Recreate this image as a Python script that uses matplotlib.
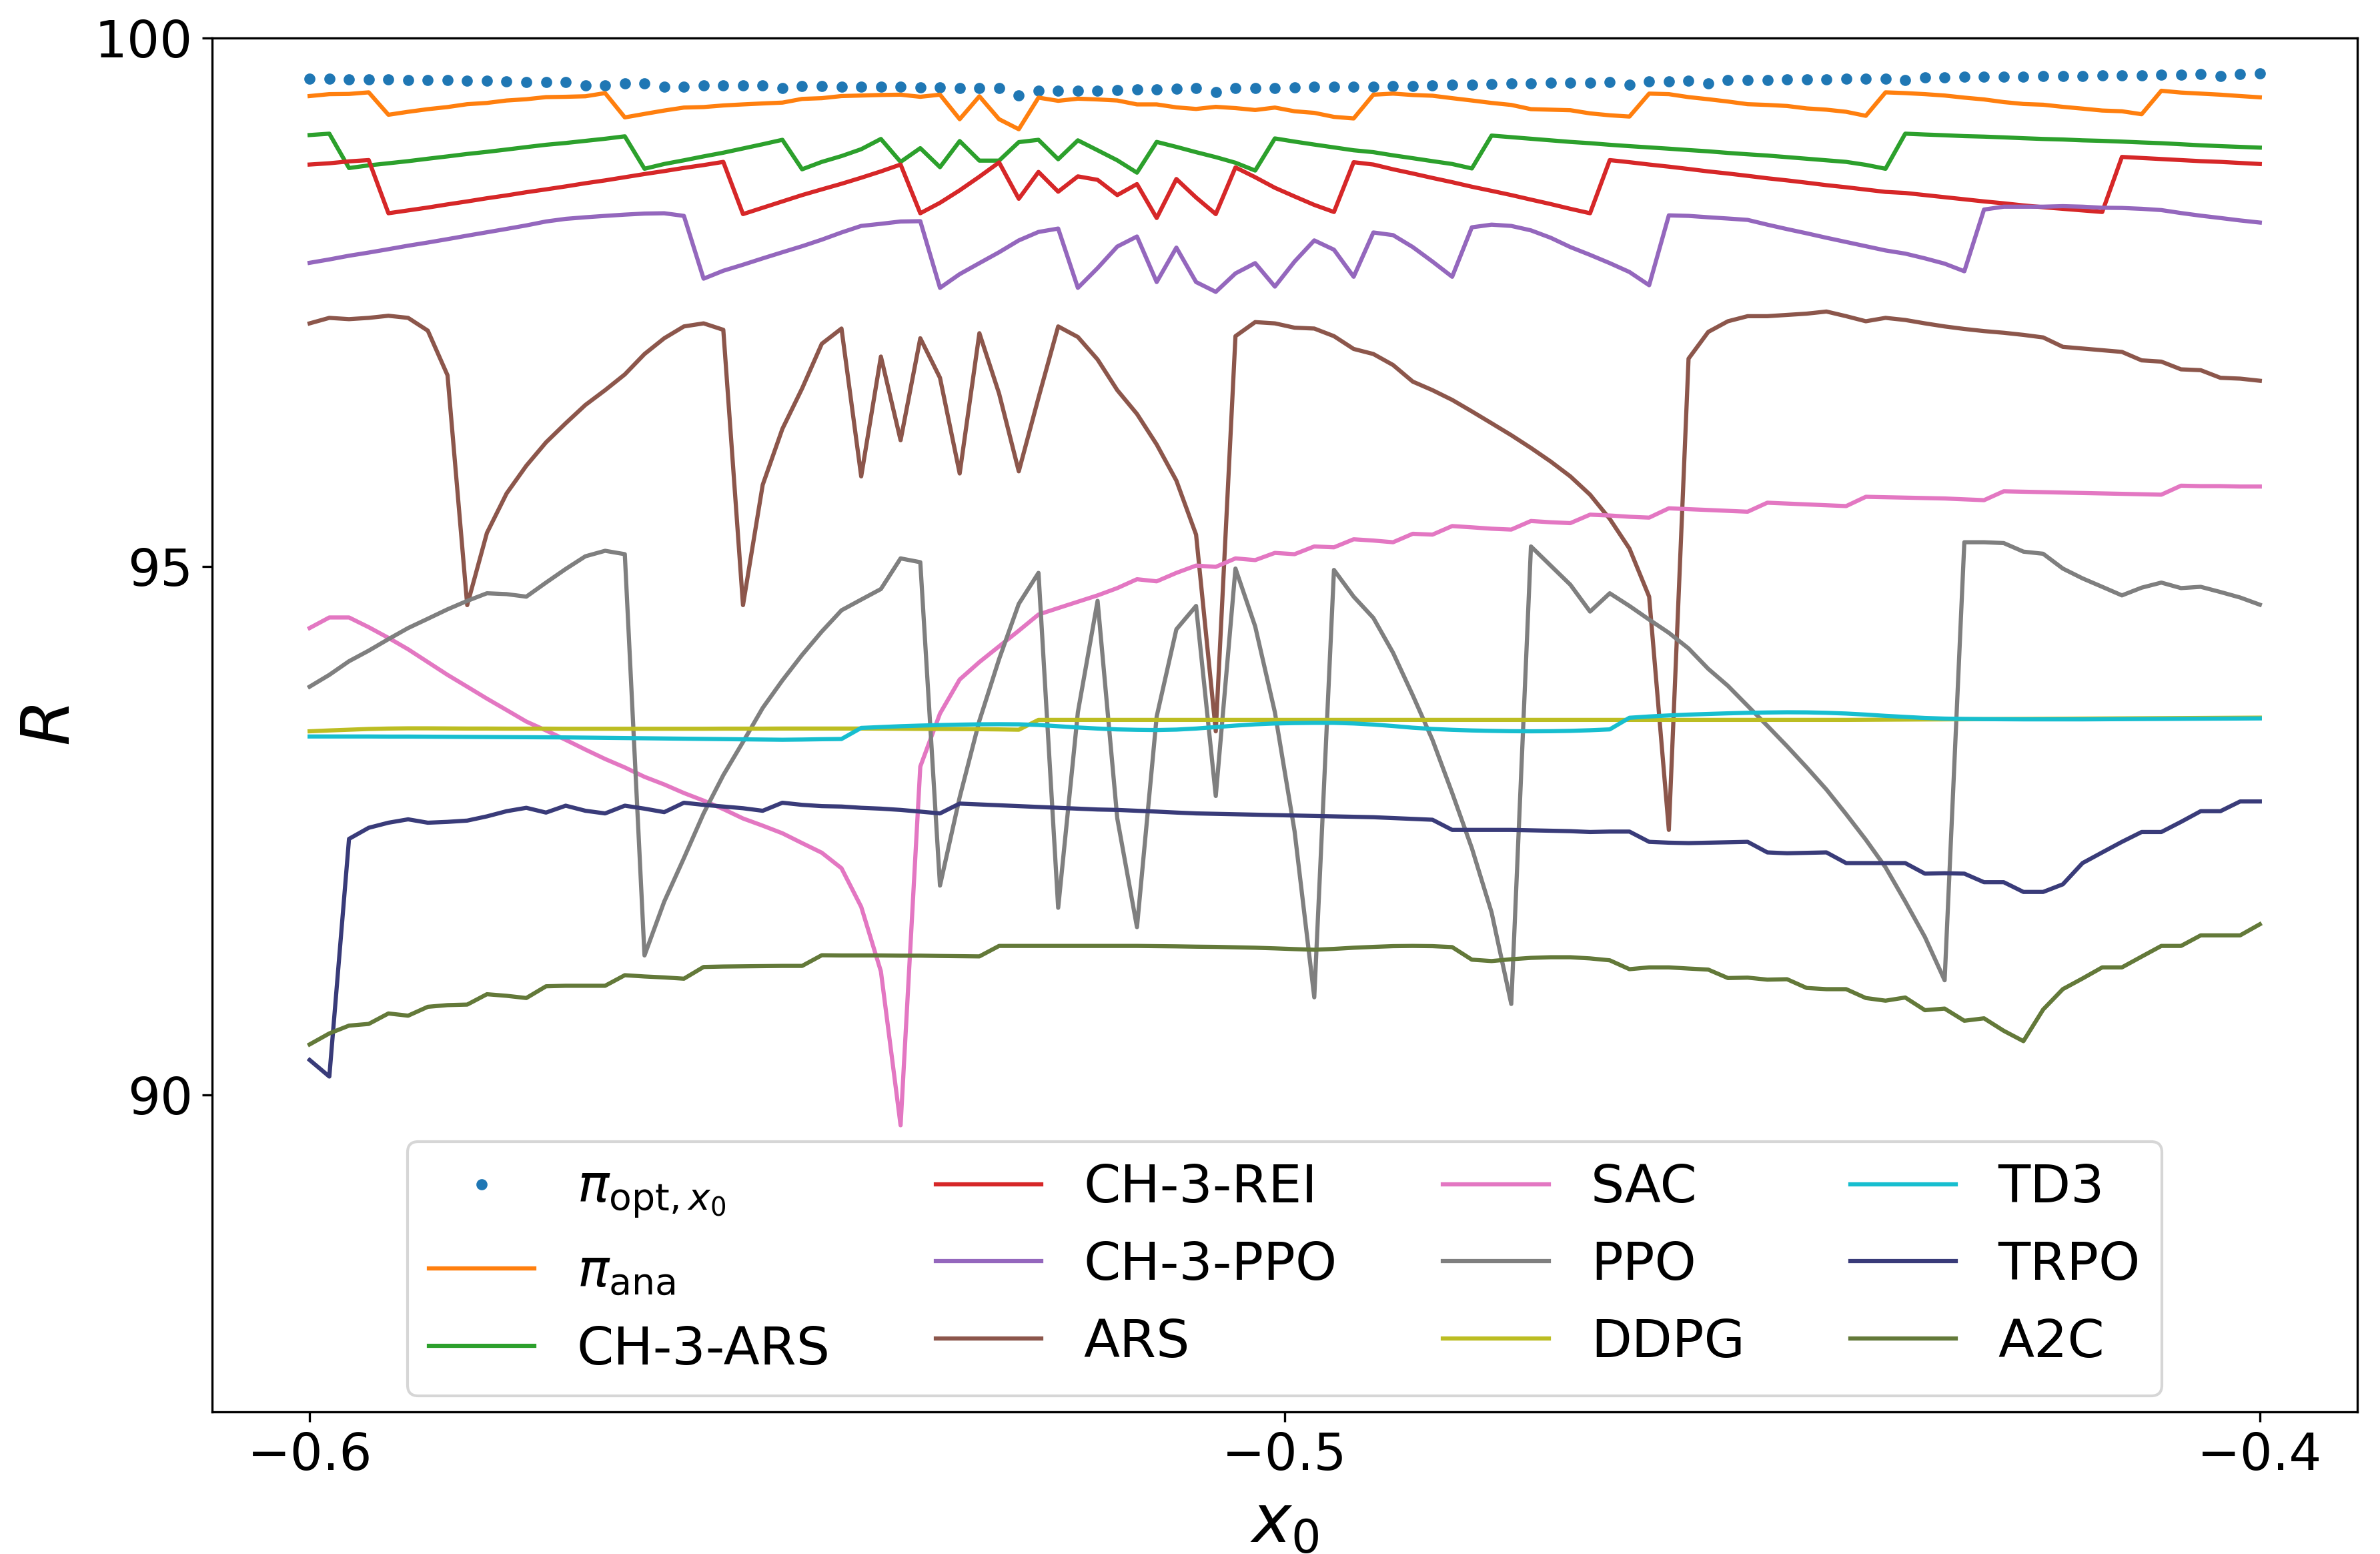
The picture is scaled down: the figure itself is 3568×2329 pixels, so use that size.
import numpy as np
import matplotlib
matplotlib.use('Agg')
import matplotlib.pyplot as plt

# x grid
x_start, x_stop, n_points = -0.6, -0.4, 100
x0 = np.linspace(x_start, x_stop, n_points)

pi_opt = [99.613, 99.613, 99.611, 99.606, 99.606, 99.603, 99.601, 99.601, 99.598, 99.593,
          99.589, 99.586, 99.584, 99.581, 99.554, 99.551, 99.573, 99.571, 99.539, 99.536,
          99.554, 99.554, 99.554, 99.551, 99.526, 99.544, 99.544, 99.539, 99.536, 99.536,
          99.536, 99.534, 99.531, 99.526, 99.526, 99.526, 99.456, 99.499, 99.504, 99.501,
          99.504, 99.509, 99.511, 99.514, 99.519, 99.524, 99.489, 99.526, 99.526, 99.529,
          99.531, 99.536, 99.539, 99.541, 99.541, 99.544, 99.546, 99.551, 99.556, 99.559,
          99.564, 99.569, 99.569, 99.574, 99.576, 99.579, 99.581, 99.559, 99.589, 99.591,
          99.593, 99.571, 99.601, 99.601, 99.603, 99.606, 99.608, 99.611, 99.613, 99.616,
          99.618, 99.601, 99.626, 99.628, 99.631, 99.633, 99.633, 99.636, 99.638, 99.641,
          99.643, 99.646, 99.648, 99.648, 99.653, 99.653, 99.656, 99.641, 99.661, 99.663]

pi_ana = [99.451, 99.469, 99.471, 99.486, 99.274, 99.302, 99.327, 99.347, 99.374, 99.386,
          99.409, 99.421, 99.441, 99.444, 99.449, 99.479, 99.249, 99.282, 99.314, 99.342,
          99.347, 99.362, 99.372, 99.381, 99.389, 99.424, 99.431, 99.451, 99.456, 99.461,
          99.464, 99.444, 99.464, 99.232, 99.449, 99.232, 99.137, 99.436, 99.406, 99.426,
          99.419, 99.409, 99.372, 99.372, 99.344, 99.329, 99.349, 99.337, 99.319, 99.342,
          99.307, 99.292, 99.254, 99.239, 99.464, 99.474, 99.461, 99.454, 99.431, 99.409,
          99.386, 99.367, 99.327, 99.322, 99.317, 99.287, 99.269, 99.257, 99.474, 99.469,
          99.441, 99.421, 99.399, 99.374, 99.367, 99.357, 99.334, 99.322, 99.302, 99.264,
          99.486, 99.479, 99.469, 99.456, 99.436, 99.419, 99.394, 99.376, 99.369, 99.349,
          99.332, 99.314, 99.307, 99.279, 99.501, 99.484, 99.474, 99.464, 99.451, 99.439]

ch3_ars = [99.082, 99.095, 98.770, 98.795, 98.815, 98.835, 98.858, 98.880, 98.903, 98.923,
           98.945, 98.968, 98.990, 99.007, 99.027, 99.047, 99.070, 98.763, 98.808, 98.843,
           98.880, 98.915, 98.955, 98.995, 99.037, 98.758, 98.828, 98.883, 98.948, 99.045,
           98.828, 98.958, 98.778, 99.025, 98.840, 98.840, 99.015, 99.037, 98.853, 99.032,
           98.938, 98.843, 98.726, 99.017, 98.970, 98.920, 98.873, 98.820, 98.746, 99.050,
           99.020, 98.992, 98.965, 98.938, 98.920, 98.890, 98.863, 98.835, 98.808, 98.766,
           99.077, 99.062, 99.047, 99.032, 99.017, 99.005, 98.990, 98.977, 98.965, 98.953,
           98.940, 98.928, 98.913, 98.900, 98.888, 98.873, 98.858, 98.843, 98.828, 98.800,
           98.763, 99.095, 99.087, 99.080, 99.072, 99.067, 99.060, 99.052, 99.045, 99.040,
           99.032, 99.027, 99.020, 99.012, 99.005, 98.995, 98.985, 98.977, 98.970, 98.963]

ch3_rei = [98.803, 98.815, 98.833, 98.845, 98.342, 98.369, 98.396, 98.426, 98.454, 98.484,
           98.511, 98.541, 98.568, 98.596, 98.626, 98.653, 98.683, 98.713, 98.741, 98.771,
           98.798, 98.828, 98.334, 98.394, 98.454, 98.514, 98.568, 98.621, 98.678, 98.738,
           98.803, 98.342, 98.441, 98.559, 98.688, 98.823, 98.479, 98.733, 98.546, 98.691,
           98.658, 98.514, 98.618, 98.297, 98.666, 98.491, 98.334, 98.776, 98.683, 98.583,
           98.501, 98.421, 98.354, 98.825, 98.803, 98.758, 98.718, 98.676, 98.636, 98.593,
           98.554, 98.514, 98.471, 98.429, 98.384, 98.342, 98.845, 98.825, 98.803, 98.783,
           98.761, 98.738, 98.718, 98.696, 98.673, 98.653, 98.631, 98.608, 98.588, 98.566,
           98.544, 98.534, 98.514, 98.494, 98.474, 98.454, 98.436, 98.416, 98.399, 98.384,
           98.369, 98.354, 98.875, 98.865, 98.855, 98.845, 98.835, 98.828, 98.818, 98.808]

ch3_ppo = [97.873, 97.905, 97.940, 97.970, 98.002, 98.035, 98.065, 98.097, 98.130, 98.162,
           98.194, 98.227, 98.264, 98.289, 98.304, 98.317, 98.329, 98.339, 98.342, 98.317,
           97.723, 97.798, 97.855, 97.915, 97.973, 98.030, 98.092, 98.160, 98.222, 98.242,
           98.264, 98.267, 97.636, 97.766, 97.870, 97.973, 98.085, 98.165, 98.197, 97.636,
           97.823, 98.027, 98.122, 97.691, 98.017, 97.691, 97.598, 97.773, 97.870, 97.648,
           97.885, 98.085, 97.997, 97.741, 98.160, 98.135, 98.022, 97.885, 97.741, 98.209,
           98.234, 98.222, 98.180, 98.110, 98.022, 97.948, 97.870, 97.786, 97.661, 98.322,
           98.317, 98.304, 98.292, 98.279, 98.234, 98.192, 98.152, 98.110, 98.070, 98.030,
           97.990, 97.960, 97.915, 97.865, 97.793, 98.377, 98.404, 98.404, 98.404, 98.409,
           98.404, 98.394, 98.392, 98.384, 98.372, 98.344, 98.319, 98.297, 98.274, 98.254]

ars = [97.300, 97.352, 97.340, 97.352, 97.372, 97.352, 97.231, 96.809, 94.634, 95.317,
       95.691, 95.953, 96.174, 96.355, 96.528, 96.668, 96.817, 97.010, 97.159, 97.271,
       97.300, 97.239, 94.634, 95.772, 96.302, 96.684, 97.107, 97.251, 95.852, 96.986,
       96.194, 97.159, 96.785, 95.880, 97.207, 96.636, 95.900, 96.596, 97.271, 97.171,
       96.958, 96.668, 96.443, 96.154, 95.812, 95.301, 93.440, 97.179, 97.312, 97.300,
       97.259, 97.251, 97.179, 97.058, 97.010, 96.906, 96.749, 96.668, 96.576, 96.467,
       96.355, 96.242, 96.121, 95.993, 95.852, 95.679, 95.450, 95.169, 94.714, 92.507,
       96.966, 97.219, 97.320, 97.368, 97.368, 97.380, 97.392, 97.412, 97.368, 97.320,
       97.352, 97.332, 97.300, 97.271, 97.247, 97.227, 97.211, 97.191, 97.167, 97.078,
       97.062, 97.046, 97.030, 96.950, 96.938, 96.865, 96.857, 96.785, 96.777, 96.757]

sac = [94.417, 94.517, 94.517, 94.425, 94.324, 94.216, 94.095, 93.974, 93.862, 93.749,
       93.641, 93.532, 93.448, 93.359, 93.267, 93.178, 93.098, 93.009, 92.937, 92.856,
       92.784, 92.704, 92.615, 92.547, 92.475, 92.382, 92.291, 92.144, 91.779, 91.168,
       89.712, 93.106, 93.608, 93.930, 94.095, 94.244, 94.392, 94.545, 94.606, 94.666,
       94.726, 94.795, 94.879, 94.859, 94.939, 95.008, 94.996, 95.076, 95.060, 95.128,
       95.116, 95.189, 95.181, 95.257, 95.245, 95.229, 95.309, 95.301, 95.382, 95.370,
       95.357, 95.349, 95.430, 95.418, 95.410, 95.490, 95.482, 95.470, 95.462, 95.550,
       95.542, 95.534, 95.526, 95.518, 95.603, 95.595, 95.587, 95.579, 95.571, 95.659,
       95.655, 95.651, 95.647, 95.643, 95.635, 95.627, 95.711, 95.707, 95.703, 95.699,
       95.695, 95.691, 95.687, 95.683, 95.679, 95.764, 95.760, 95.760, 95.756, 95.756]

ppo = [93.862, 93.974, 94.103, 94.203, 94.312, 94.417, 94.505, 94.594, 94.674, 94.746,
       94.738, 94.714, 94.847, 94.976, 95.096, 95.148, 95.116, 91.319, 91.828, 92.240,
       92.663, 93.025, 93.339, 93.661, 93.922, 94.163, 94.384, 94.585, 94.686, 94.786,
       95.076, 95.040, 91.980, 92.816, 93.540, 94.123, 94.646, 94.939, 91.770, 93.621,
       94.674, 92.615, 91.587, 93.580, 94.405, 94.626, 92.828, 94.980, 94.433, 93.621,
       92.495, 90.923, 94.967, 94.714, 94.513, 94.183, 93.781, 93.359, 92.857, 92.334,
       91.727, 90.860, 95.189, 95.008, 94.827, 94.573, 94.746, 94.626, 94.497, 94.372,
       94.224, 94.031, 93.870, 93.681, 93.492, 93.299, 93.098, 92.889, 92.656, 92.414,
       92.153, 91.830, 91.493, 91.084, 95.229, 95.229, 95.221, 95.140, 95.120, 94.980,
       94.887, 94.807, 94.726, 94.799, 94.847, 94.795, 94.807, 94.758, 94.706, 94.638]

ddpg = [93.440, 93.448, 93.455, 93.462, 93.466, 93.468, 93.468, 93.467, 93.466, 93.466,
        93.465, 93.465, 93.465, 93.464, 93.464, 93.464, 93.464, 93.464, 93.464, 93.464,
        93.464, 93.465, 93.465, 93.465, 93.466, 93.466, 93.466, 93.466, 93.466, 93.465,
        93.464, 93.463, 93.462, 93.461, 93.460, 93.458, 93.455, 93.548, 93.548, 93.548,
        93.548, 93.548, 93.548, 93.548, 93.548, 93.548, 93.548, 93.548, 93.548, 93.548,
        93.548, 93.548, 93.548, 93.548, 93.548, 93.548, 93.548, 93.548, 93.548, 93.548,
        93.548, 93.548, 93.548, 93.548, 93.548, 93.548, 93.548, 93.548, 93.548, 93.548,
        93.548, 93.548, 93.548, 93.548, 93.548, 93.548, 93.548, 93.548, 93.548, 93.549,
        93.550, 93.551, 93.552, 93.553, 93.554, 93.555, 93.556, 93.557, 93.558, 93.559,
        93.560, 93.561, 93.562, 93.563, 93.564, 93.565, 93.566, 93.567, 93.568, 93.569]

td3 = [93.391, 93.391, 93.391, 93.391, 93.390, 93.390, 93.389, 93.388, 93.387, 93.386,
       93.385, 93.384, 93.383, 93.382, 93.380, 93.378, 93.376, 93.374, 93.372, 93.370,
       93.368, 93.366, 93.364, 93.362, 93.360, 93.362, 93.365, 93.367, 93.472, 93.480,
       93.488, 93.494, 93.499, 93.503, 93.506, 93.507, 93.506, 93.500, 93.488, 93.476,
       93.466, 93.458, 93.454, 93.452, 93.456, 93.466, 93.480, 93.494, 93.506, 93.514,
       93.518, 93.520, 93.520, 93.514, 93.504, 93.490, 93.474, 93.462, 93.454, 93.448,
       93.444, 93.441, 93.440, 93.441, 93.444, 93.450, 93.458, 93.568, 93.580, 93.590,
       93.598, 93.604, 93.610, 93.615, 93.618, 93.620, 93.619, 93.615, 93.608, 93.598,
       93.586, 93.576, 93.566, 93.560, 93.557, 93.555, 93.554, 93.553, 93.553, 93.553,
       93.553, 93.554, 93.555, 93.556, 93.557, 93.558, 93.559, 93.560, 93.561, 93.562]

trpo = [90.330, 90.173, 92.422, 92.527, 92.575, 92.607, 92.575, 92.583, 92.595, 92.635,
        92.684, 92.716, 92.671, 92.736, 92.688, 92.663, 92.736, 92.708, 92.675, 92.764,
        92.744, 92.728, 92.712, 92.688, 92.764, 92.744, 92.732, 92.728, 92.716, 92.708,
        92.696, 92.680, 92.663, 92.756, 92.748, 92.740, 92.732, 92.724, 92.716, 92.708,
        92.700, 92.696, 92.688, 92.680, 92.671, 92.663, 92.659, 92.655, 92.651, 92.647,
        92.643, 92.639, 92.635, 92.631, 92.627, 92.619, 92.611, 92.603, 92.507, 92.507,
        92.507, 92.507, 92.503, 92.499, 92.495, 92.487, 92.491, 92.491, 92.394, 92.386,
        92.382, 92.386, 92.390, 92.394, 92.294, 92.286, 92.290, 92.294, 92.193, 92.193,
        92.193, 92.193, 92.093, 92.097, 92.093, 92.012, 92.012, 91.920, 91.920, 91.992,
        92.193, 92.294, 92.394, 92.487, 92.487, 92.583, 92.684, 92.684, 92.776, 92.776]

a2c = [90.477, 90.581, 90.655, 90.671, 90.770, 90.749, 90.833, 90.849, 90.854, 90.952,
       90.937, 90.916, 91.027, 91.032, 91.032, 91.032, 91.132, 91.120, 91.111, 91.099,
       91.210, 91.214, 91.216, 91.218, 91.220, 91.220, 91.321, 91.319, 91.319, 91.319,
       91.317, 91.317, 91.314, 91.312, 91.310, 91.409, 91.409, 91.409, 91.409, 91.409,
       91.409, 91.409, 91.409, 91.407, 91.405, 91.402, 91.400, 91.396, 91.392, 91.386,
       91.379, 91.373, 91.381, 91.392, 91.400, 91.407, 91.409, 91.407, 91.398, 91.279,
       91.266, 91.283, 91.296, 91.302, 91.302, 91.291, 91.273, 91.189, 91.206, 91.206,
       91.195, 91.185, 91.105, 91.109, 91.090, 91.094, 91.011, 91.000, 91.000, 90.916,
       90.891, 90.921, 90.801, 90.816, 90.701, 90.724, 90.606, 90.508, 90.807, 91.000,
       91.101, 91.206, 91.206, 91.308, 91.409, 91.409, 91.509, 91.509, 91.509, 91.614]

x_ticks = [-0.6, -0.5, -0.4]
y_ticks = [90, 95, 100]

W, H, DPI = 3568, 2329, 300
fig = plt.figure(figsize=(W / DPI, H / DPI), dpi=DPI)
ax = fig.add_axes([318 / W, 1 - 2116 / H, (3534 - 318) / W, (2116 - 57) / H])

ax.plot(x0, pi_opt, '.', color='C0', label=r'$\pi_{\mathrm{opt},x_0}$')
ax.plot(x0, pi_ana, color='C1', label=r'$\pi_{\mathrm{ana}}$')
ax.plot(x0, ch3_ars, color='C2', label='CH-3-ARS')
ax.plot(x0, ch3_rei, color='C3', label='CH-3-REI')
ax.plot(x0, ch3_ppo, color='C4', label='CH-3-PPO')
ax.plot(x0, ars, color='C5', label='ARS')
ax.plot(x0, sac, color='C6', label='SAC')
ax.plot(x0, ppo, color='C7', label='PPO')
ax.plot(x0, ddpg, color='C8', label='DDPG')
ax.plot(x0, td3, color='C9', label='TD3')
ax.plot(x0, trpo, color='#393b79', label='TRPO')
ax.plot(x0, a2c, color='#637939', label='A2C')

ax.set_ylim(87, 100)
ax.set_xticks(x_ticks)
ax.set_yticks(y_ticks)
ax.tick_params(labelsize=18.5)
ax.set_xlabel(r'$x_0$', fontsize=24)
ax.set_ylabel(r'$R$', fontsize=24)
ax.legend(ncol=4, loc='lower center', fontsize=19, borderaxespad=0.3)

fig.savefig('out.png', dpi=DPI)
